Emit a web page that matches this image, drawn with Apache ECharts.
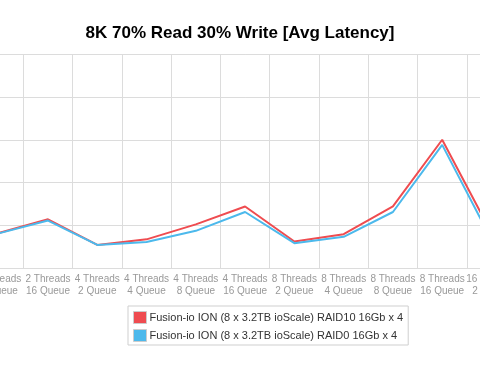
<!DOCTYPE html>
<html>
<head>
<meta charset="utf-8">
<script src="https://cdn.jsdelivr.net/npm/echarts@6/dist/echarts.min.js"></script>
<style>
html,body{margin:0;padding:0;background:#fff;width:480px;height:372px;overflow:hidden;position:relative;}
#c{position:absolute;left:-60px;top:0;width:600px;height:372px;}
</style>
</head>
<body>
<div id="c"></div>
<script>
var titleText = '8K 70% Read 30% Write [Avg Latency]';
var categories = ['2 Threads\n8 Queue','2 Threads\n16 Queue','4 Threads\n2 Queue','4 Threads\n4 Queue','4 Threads\n8 Queue','4 Threads\n16 Queue','8 Threads\n2 Queue','8 Threads\n4 Queue','8 Threads\n8 Queue','8 Threads\n16 Queue','16 Threads\n2 Queue'];
var seriesNames = ['Fusion-io ION (8 x 3.2TB ioScale) RAID10 16Gb x 4','Fusion-io ION (8 x 3.2TB ioScale) RAID0 16Gb x 4'];
var raid10 = [0.82, 1.14, 0.54, 0.67, 1.02, 1.44, 0.62, 0.79, 1.44, 3.00, 0.82];
var raid0  = [0.81, 1.11, 0.54, 0.61, 0.87, 1.31, 0.58, 0.73, 1.31, 2.88, 0.66];
var yTicks = [0, 1, 2, 3, 4, 5];

var font = 'Helvetica, Arial, "Liberation Sans", sans-serif';
var shift = 60; // canvas extends 60px left of the visible page
var chart = echarts.init(document.getElementById('c'), null, {renderer:'canvas'});
chart.setOption({
  animation: false,
  color: ['#ef4c50', '#4cb9ec'],
  title: {
    text: titleText,
    left: 'center',
    top: 20,
    textStyle: {fontFamily: font, fontSize: 17, fontWeight: 'bold', color: '#000'}
  },
  legend: {
    orient: 'vertical',
    left: 128 + shift,
    top: 306,
    padding: [5, 5, 3, 5],
    itemGap: 5,
    itemWidth: 13,
    itemHeight: 12,
    borderColor: '#cfcfcf',
    borderWidth: 1,
    icon: 'rect',
    itemStyle: {borderColor: '#cccccc', borderWidth: 1},
    textStyle: {fontFamily: font, fontSize: 11, color: '#333', padding: [0,0,0,-2]},
    data: seriesNames
  },
  grid: {
    left: shift - 25.9,
    width: 542,
    top: 54.3,
    bottom: 104,
    containLabel: false
  },
  xAxis: {
    type: 'category',
    data: categories,
    boundaryGap: true,
    axisLine: {show: true, lineStyle: {color: '#dcdcdc', width: 1}},
    axisTick: {show: false},
    splitLine: {show: true, lineStyle: {color: '#dcdcdc', width: 1}},
    axisLabel: {
      interval: 0,
      margin: 5,
      fontFamily: font,
      fontSize: 10,
      lineHeight: 12,
      color: '#999'
    }
  },
  yAxis: {
    type: 'value',
    min: yTicks[0],
    max: yTicks[yTicks.length - 1],
    interval: 1,
    axisLine: {show: false},
    axisTick: {show: false},
    axisLabel: {show: true, color: '#999'},
    splitLine: {show: true, lineStyle: {color: '#dcdcdc', width: 1}}
  },
  series: [
    {name: seriesNames[0], type: 'line', data: raid10, symbol: 'none', lineStyle: {width: 2}},
    {name: seriesNames[1], type: 'line', data: raid0, symbol: 'none', lineStyle: {width: 2}}
  ]
});
</script>
</body>
</html>
